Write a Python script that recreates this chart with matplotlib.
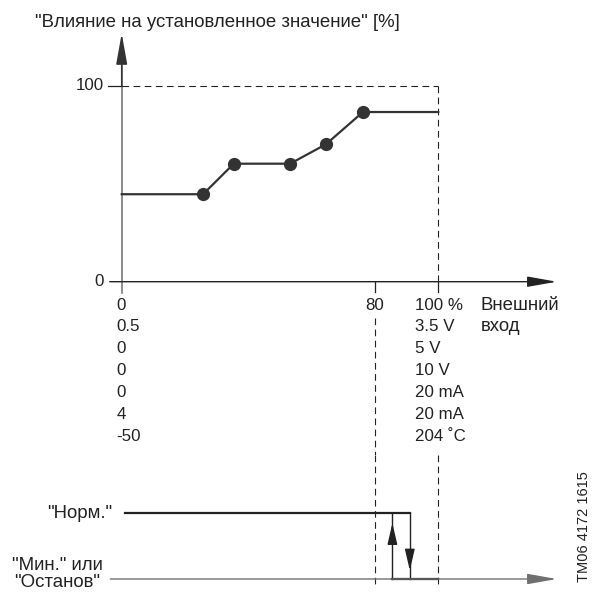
import matplotlib
matplotlib.use('Agg')
import matplotlib.pyplot as plt

plt.rcParams['font.family'] = ['Liberation Sans', 'DejaVu Sans']

# characteristic curve: external input [%] -> influence on setpoint [%]
curve_x = [0, 25.7, 35.4, 53.2, 64.5, 76.2, 100]
curve_y = [44.7, 44.7, 60.3, 60.3, 70.2, 86.7, 86.7]
points_x = curve_x[1:-1]
points_y = curve_y[1:-1]

y_ticks = [0, 100]
x_ticks = [80, 100]

# sensor ranges: low end / high end
low_labels = ['0', '0.5', '0', '0', '0', '4', '-50']
high_labels = ['100 %', '3.5 V', '5 V', '10 V', '20 mA', '20 mA', '204 \u02daC']

# stop function hysteresis (input %)
switch_up = 85.5
switch_down = 91.0

INK = '#222222'
GREY = '#6f6f6f'
FS = 12.2      # numbers
FS_RU = 13.4   # cyrillic labels

fig = plt.figure(figsize=(5.93, 6.0), dpi=100)

# ---- top part: characteristic ----
ax = fig.add_axes([0, 145 / 600, 1, 455 / 600])
ax.set_xlim(-38.44, 148.86)
ax.set_ylim(-88.55, 143.94)
ax.axis('off')

def arrow(a, start, tip, color, lw, hl, hw):
    a.annotate('', xy=tip, xytext=start,
               arrowprops=dict(arrowstyle=f'-|>,head_length={hl},head_width={hw}',
                               mutation_scale=1, color=color, lw=lw,
                               shrinkA=0, shrinkB=0))

# axes lines with arrows
ax.plot([0, 0], [-5.8, 110], color=GREY, lw=1.1)
arrow(ax, (0, 100), (0, 126.9), '#333333', 1.1, 19, 3.4)
arrow(ax, (-3.8, 0), (137.4, 0), INK, 1.0, 18, 3.2)

# ticks
ax.plot([-4.4, 0], [100, 100], color=INK, lw=0.9)
for xt in x_ticks:
    ax.plot([xt, xt], [0, -5.3], color=INK, lw=0.9)
for yt in y_ticks:
    ax.text(-5.7, yt, str(yt), ha='right', va='center', fontsize=FS, color=INK)

# dashed frame at 100 %
dash = dict(color=INK, lw=0.8, linestyle=(0, (6, 4)))
ax.plot([0, 100], [100, 100], **dash)
ax.plot([100, 100], [100, 0], **dash)
ax.plot([80, 80], [-18.5, -88.55], **dash)

# curve
ax.plot(curve_x, curve_y, color='#333333', lw=1.6)
ax.plot(points_x, points_y, 'o', color='#333333', markersize=8.5)

# labels below x axis
row0 = -23.3 / 1.957
row = 21.9 / 1.957
for i, (lo, hi) in enumerate(zip(low_labels, high_labels)):
    y = row0 - i * row
    ax.text(-1.7, y, lo, ha='left', va='center', fontsize=FS, color=INK)
    ax.text(92.6, y, hi, ha='left', va='center', fontsize=FS, color=INK)
ax.text(80, row0, '80', ha='center', va='center', fontsize=FS, color=INK)
ax.text(113.4, row0, 'Внешний', ha='left', va='center', fontsize=FS_RU, color=INK)
ax.text(113.4, row0 - row, 'вход', ha='left', va='center', fontsize=FS_RU, color=INK)

fig.text(35 / 593, 1 - 22.5 / 600, '"Влияние на установленное значение" [%]',
         ha='left', va='center', fontsize=FS_RU, color=INK)

# ---- bottom part: stop function ----
bx = fig.add_axes([0, 0, 1, 145 / 600])
bx.set_xlim(-38.44, 148.86)
bx.set_ylim(-0.3196, 1.887)
bx.axis('off')

bx.plot([80, 80], [1.887, -0.12], **dash)
bx.plot([100, 100], [1.887, -0.12], **dash)

arrow(bx, (-3.6, 0), (137.4, 0), GREY, 1.0, 18, 3.2)
bx.plot([switch_up, 100], [0, 0], color=INK, lw=1.6)
bx.plot([0.95, switch_down], [1, 1], color=INK, lw=1.6)

bx.plot([switch_up, switch_up], [0, 1], color=INK, lw=1.0)
bx.plot([switch_down, switch_down], [1, 0], color=INK, lw=1.0)
arrow(bx, (switch_up, 0.57), (switch_up, 0.85), INK, 1.0, 13, 3.0)
arrow(bx, (switch_down, 0.43), (switch_down, 0.13), INK, 1.0, 13, 3.0)

bx.text(-3.06, 1, '"Норм."', ha='right', va='center', fontsize=FS_RU, color=INK)
bx.text(-20.4, 0.076, '"Мин." или\n"Останов"', ha='center', va='center',
        multialignment='center', linespacing=0.95, fontsize=FS_RU, color=INK)

fig.text(584 / 593, 1 - 527 / 600, 'TM06 4172 1615', rotation=90,
         ha='center', va='center', fontsize=10.5, color=INK)

fig.savefig('out.png', dpi=100)
